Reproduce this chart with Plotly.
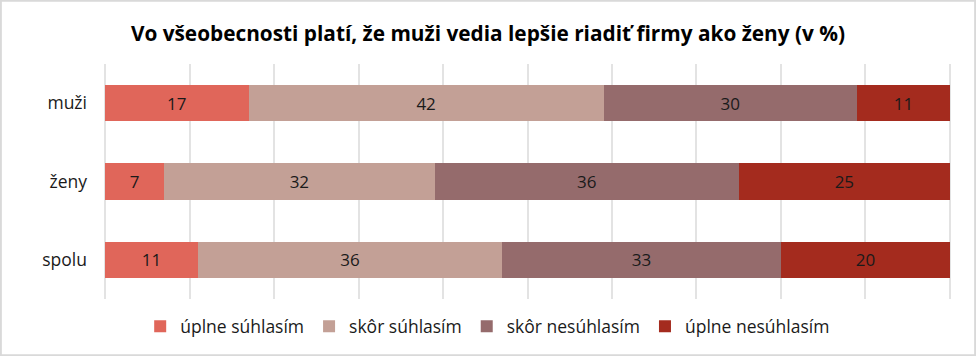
import plotly.graph_objects as go

categories = ["muži", "ženy", "spolu"]
series_names = ["úplne súhlasím", "skôr súhlasím", "skôr nesúhlasím", "úplne nesúhlasím"]
values = {
    "úplne súhlasím": [17, 7, 11],
    "skôr súhlasím": [42, 32, 36],
    "skôr nesúhlasím": [30, 36, 33],
    "úplne nesúhlasím": [11, 25, 20],
}
colors = ["#e0665a", "#c3a096", "#956b6c", "#a42b1e"]
title = "Vo všeobecnosti platí, že muži vedia lepšie riadiť firmy ako ženy (v %)"

font = "Open Sans"
fig = go.Figure()
for name, col in zip(series_names, colors):
    v = values[name]
    fig.add_trace(go.Bar(
        y=categories, x=v, name=name, orientation="h",
        marker=dict(color=col, line=dict(width=0)),
        text=[str(t) for t in v], textposition="inside", insidetextanchor="middle",
        textfont=dict(color="#1a1a1a", size=17, family=font),
        constraintext="none",
    ))

fig.update_layout(
    barmode="stack",
    bargap=0.54,
    width=976, height=356,
    margin=dict(l=104, r=25, t=64, b=57, autoexpand=False),
    paper_bgcolor="white", plot_bgcolor="white",
    title=dict(text="<b>" + title + "</b>", x=0.5, xanchor="center", y=0.905, yanchor="middle",
               font=dict(family=font, size=20.8, color="#000000")),
    legend=dict(orientation="h", x=0.453, xanchor="center", y=-0.04, yanchor="top",
                bgcolor="rgba(0,0,0,0)",
                font=dict(family=font, size=17.5, color="#1a1a1a"),
                traceorder="normal", itemwidth=30),
    showlegend=True,
    xaxis=dict(range=[-0.12, 100.12], dtick=10, showgrid=True, gridcolor="#e3e3e3", gridwidth=2,
               showticklabels=False, zeroline=False, showline=False, fixedrange=True,
               automargin=False),
    yaxis=dict(autorange="reversed", showgrid=False, ticks="", ticklabelstandoff=16,
               tickfont=dict(family=font, size=17.5, color="#1a1a1a"), showline=False,
               automargin=False, fixedrange=True),
)
fig.add_shape(type="rect", xref="paper", yref="paper",
              x0=-104/847 + 0.001, x1=(847+25)/847 - 0.001, y0=-57/235 + 0.003, y1=(235+64)/235 - 0.003,
              line=dict(color="#d9d9d9", width=2), layer="below")
fig.write_html("out.html", config={"displayModeBar": False},
               post_script="document.body.style.margin='0';document.body.style.overflow='hidden';")
